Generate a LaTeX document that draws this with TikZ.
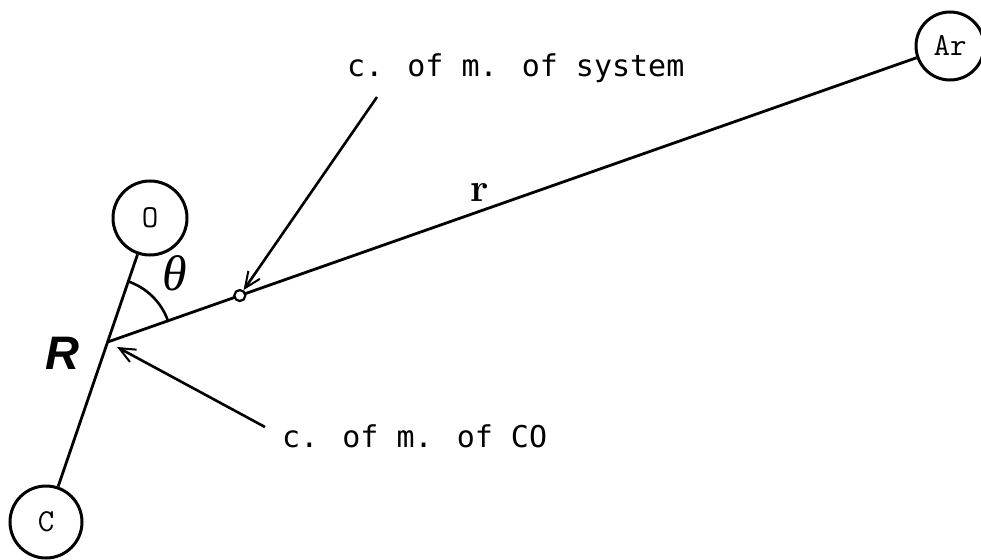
\documentclass[tikz,border=0pt]{standalone}
\usepackage{fontspec}
\setsansfont{Liberation Sans}
\newfontfamily\labelmono{DejaVu Sans Mono}
\newfontfamily\greekserif{Liberation Serif}
\usetikzlibrary{calc,arrows.meta}
\tikzset{
  atom/.style={draw, circle, line width=3pt, inner sep=0pt, minimum size=#1, font=\fontsize{32}{36}\selectfont\ttfamily},
  bond/.style={line width=2.8pt},
  pointer/.style={line width=2.6pt, -{Straight Barb[length=16pt,width=14pt,line width=2pt]}},
  note/.style={font=\fontsize{30}{34}\selectfont\labelmono, inner sep=0pt}
}
\begin{document}
\begin{tikzpicture}[x=1pt,y=1pt]
\useasboundingbox (0,0) rectangle (981,-559);
\node[atom=74pt] (O) at (150,-218) {O};
\node[atom=72pt] (C) at (46,-522) {C};
\node[atom=68pt] (Ar) at (950,-46) {Ar};
\coordinate (R) at ($(O)!0.408!(C)$);
\draw[bond] (O) -- (C);
\draw[bond] (R) -- (Ar);
\node[draw, circle, line width=2.2pt, minimum size=11pt, inner sep=0pt, fill=white] (cm) at ($(R)!0.157!(Ar)$) {};
\draw[line width=2.6pt] ($(R)+(19:64)$) arc[start angle=19, end angle=72, radius=64];
\node[inner sep=0pt, font=\fontsize{50}{56}\selectfont\greekserif\itshape] (th) at (175,-273) {θ};
\node[inner sep=0pt, font=\fontsize{40}{44}\selectfont\bfseries] (rl) at (480,-192) {r};
\node[inner sep=0pt, anchor=base, font=\fontsize{47}{52}\selectfont\sffamily\bfseries\itshape] (Rl) at (62,-369) {R};
\node[note, anchor=base west] (sys) at (347,-77) {c. of m. of system};
\node[note, anchor=base west] (co) at (282,-447) {c. of m. of CO};
\coordinate (s1) at (377,-97);
\coordinate (s2) at (265,-427);
\coordinate (t2) at (117,-347);
\draw[pointer] (s1) -- (cm);
\draw[pointer] (s2) -- (t2);
\end{tikzpicture}
\end{document}
